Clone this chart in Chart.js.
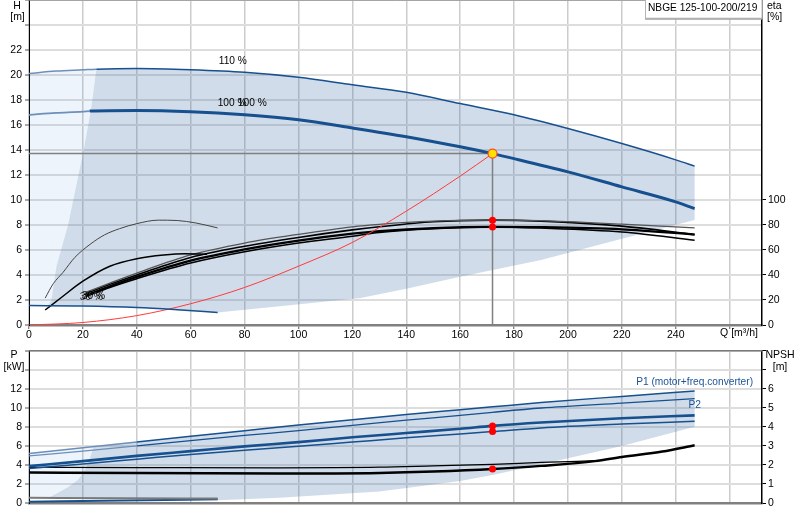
<!DOCTYPE html>
<html>
<head>
<meta charset="utf-8">
<script src="https://cdn.jsdelivr.net/npm/chart.js@4.4.1/dist/chart.umd.min.js"></script>
<style>
  body { margin: 0; background: #fff; width: 800px; height: 520px; overflow: hidden; position: relative; }
  #top { position: absolute; left: 0; top: 0; }
  #bottom { position: absolute; left: 0; top: 340px; }
</style>
</head>
<body>
<canvas id="top" width="800" height="345"></canvas>
<canvas id="bottom" width="800" height="180"></canvas>
<script>
// ---- Q-H panel ----
const qH110 = [0, 10, 20, 25, 40, 60, 80, 100, 120, 140, 160, 180, 200, 220, 240, 247];
const h110  = [20.1, 20.3, 20.4, 20.45, 20.5, 20.4, 20.2, 19.8, 19.2, 18.6, 17.7, 16.8, 15.7, 14.5, 13.2, 12.7];
const qH100 = [0, 10, 20, 22.5, 40, 60, 80, 100, 120, 140, 160, 172, 180, 200, 220, 240, 247];
const h100  = [16.8, 16.95, 17.05, 17.1, 17.15, 17.05, 16.8, 16.4, 15.75, 15.05, 14.24, 13.7, 13.3, 12.24, 11.04, 9.84, 9.3];
const qHMin = [0, 20, 40, 55, 70];
const hMin  = [1.55, 1.52, 1.4, 1.22, 1.0];
const qSys  = [0, 20, 40, 60, 80, 100, 120, 140, 160, 172];
const hSys  = [0, 0.2, 0.75, 1.7, 3.0, 4.7, 6.6, 9.1, 11.9, 13.7];
const qDuty = [172];
const hDuty = [13.7];

// shaded operating range (outline), and the light zone at low flow
const qShadeH = [7, 8.3, 10.2, 14.5, 20.3, 23, 25, 40, 60, 80, 100, 120, 140, 160, 180, 200, 220, 240, 247,
                 247, 220, 190, 160, 140, 123, 93, 70, 55, 40, 20];
const hShadeH = [1.55, 1.95, 4.7, 8, 14, 17.2, 20.45, 20.5, 20.4, 20.2, 19.8, 19.2, 18.6, 17.7, 16.8, 15.7, 14.5, 13.2, 12.7,
                 8.4, 6.9, 5.2, 3.85, 2.9, 2.15, 1.5, 1.0, 1.22, 1.4, 1.52];
const qLightH = [0, 0, 10, 20, 25, 23, 20.3, 14.5, 10.2, 8.3, 7];
const hLightH = [1.55, 20.1, 20.3, 20.4, 20.45, 17.2, 14, 8, 4.7, 1.95, 1.55];

// efficiency curves [%]
const qEtaLow = [6, 9, 12.6, 17, 23, 28, 33.6, 40, 48, 55, 62, 70];
const etaLow  = [21.5, 33, 42, 54, 65, 72, 77, 81, 83.8, 83.5, 81.5, 77.6];
const qEtaMid = [6, 12, 20, 30, 40, 50, 58, 66];
const etaMid  = [12, 22, 35, 47, 53, 56, 57, 56.5];
const qEta    = [21, 30, 40, 60, 80, 100, 120, 130, 150, 172, 190, 220, 247];
const eta1    = [26, 33.5, 41.5, 56, 65.5, 72.5, 78.5, 80.5, 83, 83.8, 83.4, 80.6, 77.6];
const eta2    = [25, 32.5, 40, 54, 63, 70, 76, 78.5, 82.5, 83.8, 83, 79, 72.3];
const eta3    = [23.5, 31, 38.5, 51.5, 60.5, 67.5, 73, 75, 77.5, 78.4, 78.2, 76.5, 72.3];
const eta4    = [22.5, 30, 37, 49.5, 58.5, 65.5, 71, 74, 77, 78.4, 77.5, 74.4, 67.8];
const etaDuty = [83.8, 78.4];

// ---- P / NPSH panel ----
const qP    = [0, 20, 40, 60, 80, 100, 120, 140, 160, 172, 190, 220, 247];
const p1_110 = [5.2, 5.8, 6.4, 7.0, 7.6, 8.2, 8.75, 9.3, 9.8, 10.1, 10.55, 11.2, 11.76];
const p2_110 = [4.95, 5.45, 6.0, 6.55, 7.1, 7.6, 8.15, 8.7, 9.2, 9.53, 9.98, 10.5, 10.96];
const p1_100 = [3.87, 4.4, 4.95, 5.45, 5.95, 6.4, 6.9, 7.35, 7.8, 8.1, 8.45, 8.9, 9.21];
const p2_100 = [3.63, 4.1, 4.6, 5.1, 5.55, 5.95, 6.4, 6.85, 7.25, 7.5, 7.89, 8.3, 8.59];
const qPMin  = [0, 35, 70];
const pMinA  = [0.55, 0.5, 0.47];
const pMinB  = [0.14, 0.25, 0.4];
const pDuty  = [8.1, 7.5];

const qShadeP = [7, 8, 11, 14.7, 18, 20, 22, 24, 40, 60, 80, 100, 120, 140, 160, 172, 190, 220, 247,
                 247, 220, 189, 172, 160, 130, 93, 70, 40];
const pShadeP = [0.5, 0.66, 1.1, 1.7, 2.4, 3.1, 4.2, 5.92, 6.4, 7.0, 7.6, 8.2, 8.75, 9.3, 9.8, 10.1, 10.55, 11.2, 11.76,
                 8.0, 6.0, 4.0, 2.93, 2.3, 1.2, 0.56, 0.3, 0.45];
const qLightP = [0, 0, 20, 24, 22, 20, 18, 14.7, 11, 8, 7];
const pLightP = [0.5, 5.2, 5.8, 5.92, 4.2, 3.1, 2.4, 1.7, 1.1, 0.66, 0.5];

const qNpshLo = [0, 40, 93, 130, 150, 172, 190, 210, 220, 235, 247];
const npshLo  = [1.6, 1.57, 1.55, 1.58, 1.65, 1.78, 1.95, 2.2, 2.42, 2.7, 3.03];
const qNpshHi = [0, 40, 93, 130, 150, 172, 190, 210];
const npshHi  = [1.87, 1.86, 1.85, 1.88, 1.95, 2.03, 2.13, 2.22];
const npshDuty = [1.78];

// ---- helpers ----
const FONT = '"Liberation Sans", Arial, sans-serif';
Chart.defaults.font = { family: FONT, size: 10.5 };
Chart.defaults.color = '#000';

const BLUE = '#17508f';
const BLUE_LIGHT = '#6d8fba';
const SHADE = 'rgba(60,110,165,0.24)';
const SHADE_LIGHT = 'rgba(80,150,230,0.10)';

const pts = (xs, ys) => xs.map((x, i) => ({ x: x, y: ys[i] }));

function curve(xs, ys, color, width, axis, more) {
  return Object.assign({
    data: pts(xs, ys), yAxisID: axis, borderColor: color, borderWidth: width,
    pointRadius: 0, fill: false, cubicInterpolationMode: 'monotone', order: 3
  }, more || {});
}
function area(xs, ys, color, axis, order) {
  return {
    data: pts(xs, ys), yAxisID: axis, backgroundColor: color, borderColor: 'rgba(0,0,0,0)',
    borderWidth: 0, pointRadius: 0, fill: 'shape', tension: 0, order: order
  };
}
function dots(xs, ys, axis, more) {
  return Object.assign({
    data: pts(xs, ys), yAxisID: axis, showLine: false, pointRadius: 3.5,
    pointBackgroundColor: '#ff0000', pointBorderColor: '#ff0000', pointBorderWidth: 0, order: 0
  }, more || {});
}
function txt(ctx, s, x, y, align, color) {
  ctx.fillStyle = color || '#000';
  ctx.textAlign = align || 'left';
  ctx.textBaseline = 'middle';
  ctx.fillText(s, x, y);
}
function fixWidth(w) {
  return s => { s.width = w; s.paddingTop = 0; s.paddingBottom = 0; };
}
function fixHeight(h) {
  return s => { s.height = h; s.paddingLeft = 0; s.paddingRight = 0; };
}
const xScale = (showLabels, h) => ({
  type: 'linear', min: 0, max: 272,
  ticks: {
    display: showLabels, stepSize: 20, includeBounds: false, autoSkip: false, maxRotation: 0, padding: 0,
    callback: v => (v <= 240 ? v : '')
  },
  grid: { color: '#cccccc', lineWidth: 1.5, drawTicks: showLabels, tickLength: 4, tickColor: '#555', tickWidth: 1 },
  border: { color: '#808080', width: 2.5 },
  afterFit: fixHeight(h)
});
const leftScale = (max, labelMax) => ({
  position: 'left', min: 0, max: max,
  ticks: { stepSize: 2, autoSkip: false, padding: 3, callback: v => (v <= labelMax ? v : '') },
  grid: { color: '#dddddd', lineWidth: 2, tickLength: 4, tickColor: '#555', tickWidth: 1 },
  border: { color: '#000', width: 1 },
  afterFit: fixWidth(29)
});
const rightScale = (max, step, labelMax, tickMax) => ({
  position: 'right', min: 0, max: max,
  ticks: { stepSize: step, autoSkip: false, padding: 2, callback: v => (v <= labelMax ? v : '') },
  grid: {
    drawOnChartArea: false, tickLength: 4, tickWidth: 1,
    tickColor: c => (c.tick && c.tick.value <= tickMax ? '#000' : 'rgba(0,0,0,0)')
  },
  border: { color: '#000', width: 1.5 },
  afterFit: fixWidth(38)
});

// ---- top chart: Q-H and eta ----
const topText = {
  id: 'topText',
  afterDraw(chart) {
    const { ctx, chartArea: a, scales: s } = chart;
    const X = v => s.x.getPixelForValue(v), Y = v => s.y.getPixelForValue(v);
    const oy = a.top; // page y = canvas y - oy
    ctx.save();
    ctx.strokeStyle = '#8c8c8c'; ctx.lineWidth = 1;
    ctx.beginPath(); ctx.moveTo(a.left, a.top + 0.5); ctx.lineTo(a.right, a.top + 0.5); ctx.stroke();
    ctx.font = '10.5px ' + FONT;
    txt(ctx, 'H', 17, oy + 6, 'center');
    txt(ctx, '[m]', 17.5, oy + 17, 'center');
    txt(ctx, 'eta', 767, oy + 6);
    txt(ctx, '[%]', 767, oy + 17);
    txt(ctx, 'Q [m\u00b3/h]', 739, a.bottom + 8.5, 'center');
    // model box
    ctx.fillStyle = '#fff'; ctx.fillRect(645, oy, 117, 19);
    ctx.fillStyle = '#9a9a9a'; ctx.fillRect(645, oy + 18.5, 117, 1.5);
    ctx.strokeStyle = '#b4b4b4'; ctx.lineWidth = 1; ctx.strokeRect(645.5, oy - 0.5, 116.5, 19);
    ctx.font = '10.2px ' + FONT;
    txt(ctx, 'NBGE 125-100-200/219', 648, oy + 8.5);
    // curve labels
    txt(ctx, '110 %', X(70.4), Y(21.1));
    txt(ctx, '100 %', X(70), Y(17.7));
    txt(ctx, '100 %', X(77.5), Y(17.75));
    txt(ctx, '30 %', X(18.8), Y(2.26), 'left', '#333');
    txt(ctx, '30 %', X(19.6), Y(2.3), 'left', '#000');
    ctx.restore();
  }
};

const topCanvas = document.getElementById('top');
const topChart = new Chart(topCanvas, {
  type: 'line',
  data: {
    datasets: [
      area(qLightH, hLightH, SHADE_LIGHT, 'y', 11),
      area(qShadeH, hShadeH, SHADE, 'y', 10),
      curve(qH110, h110, BLUE, 1.5, 'y', {
        segment: { borderColor: c => (c.p0.parsed.x < 25 ? BLUE_LIGHT : BLUE) }
      }),
      curve(qH100, h100, BLUE, 3, 'y', {
        segment: {
          borderColor: c => (c.p0.parsed.x < 22.5 ? BLUE_LIGHT : BLUE),
          borderWidth: c => (c.p0.parsed.x < 22.5 ? 1.8 : 3)
        }
      }),
      curve(qHMin, hMin, BLUE, 1.5, 'y'),
      curve(qSys, hSys, '#ff3b3b', 1, 'y'),
      curve([0, 172, 172], [13.7, 13.7, 0], '#808080', 1.5, 'y', { cubicInterpolationMode: 'default', tension: 0, order: 4 }),
      curve(qEtaLow, etaLow, '#444', 1, 'eta'),
      curve(qEtaMid, etaMid, '#000', 1.5, 'eta'),
      curve(qEta, eta1, '#555', 1.3, 'eta'),
      curve(qEta, eta2, '#000', 1.6, 'eta'),
      curve(qEta, eta3, '#000', 2.2, 'eta'),
      curve(qEta, eta4, '#000', 1.5, 'eta'),
      dots([172, 172], etaDuty, 'eta'),
      dots(qDuty, hDuty, 'y', { pointRadius: 4.5, pointBackgroundColor: '#ffe100', pointBorderColor: '#ff4a2a', pointBorderWidth: 1.2 })
    ]
  },
  options: {
    responsive: false, maintainAspectRatio: false, animation: false,
    layout: { padding: 0 },
    plugins: { legend: { display: false }, tooltip: { enabled: false } },
    scales: {
      x: xScale(true, 20),
      y: leftScale(26, 22),
      eta: rightScale(260, 20, 100, 100)
    }
  },
  plugins: [topText]
});

// the library leaves a small gap above the plot; make it a whole pixel count,
// then shift the canvas up so the plot spans page y 0..325
const gap = topChart.chartArea.top;
if (gap > 0.2) {
  const whole = Math.ceil(gap);
  topChart.options.layout.padding = { top: whole - gap, left: 0, right: 0, bottom: 0 };
  topChart.resize(800, 345 + whole);
  topCanvas.style.top = (-Math.round(topChart.chartArea.top)) + 'px';
}

// ---- bottom chart: P and NPSH ----
const bottomText = {
  id: 'bottomText',
  afterDraw(chart) {
    const { ctx, chartArea: a, scales: s } = chart;
    const X = v => s.x.getPixelForValue(v), Y = v => s.y.getPixelForValue(v);
    ctx.save();
    ctx.strokeStyle = '#7a7a7a'; ctx.lineWidth = 1.5;
    ctx.beginPath(); ctx.moveTo(a.left, a.top); ctx.lineTo(a.right, a.top); ctx.stroke();
    ctx.font = '10.5px ' + FONT;
    txt(ctx, 'P', 14, 15, 'center');
    txt(ctx, '[kW]', 14, 27, 'center');
    txt(ctx, 'NPSH', 780, 15.3, 'center');
    txt(ctx, '[m]', 780, 27, 'center');
    ctx.font = '10.2px ' + FONT;
    txt(ctx, 'P1 (motor+freq.converter)', X(225.3), Y(12.67), 'left', '#1d5496');
    txt(ctx, 'P2', X(244.7), Y(10.26), 'left', '#1d5496');
    ctx.restore();
  }
};

new Chart(document.getElementById('bottom'), {
  type: 'line',
  data: {
    datasets: [
      area(qLightP, pLightP, SHADE_LIGHT, 'y', 11),
      area(qShadeP, pShadeP, SHADE, 'y', 10),
      curve(qP, p1_110, BLUE, 1.5, 'y', {
        segment: { borderColor: c => (c.p0.parsed.x < 24 ? BLUE_LIGHT : BLUE) }
      }),
      curve(qP, p2_110, BLUE, 1.3, 'y', {
        segment: { borderColor: c => (c.p0.parsed.x < 24 ? BLUE_LIGHT : BLUE) }
      }),
      curve(qP, p1_100, BLUE, 2.6, 'y'),
      curve(qP, p2_100, BLUE, 1.5, 'y'),
      curve(qPMin, pMinA, '#7a7a7a', 2, 'y'),
      curve(qPMin, pMinB, BLUE, 2, 'y'),
      curve(qNpshHi, npshHi, '#000', 1.3, 'npsh'),
      curve(qNpshLo, npshLo, '#000', 2.5, 'npsh'),
      dots([172, 172], pDuty, 'y'),
      dots([172], npshDuty, 'npsh')
    ]
  },
  options: {
    responsive: false, maintainAspectRatio: false, animation: false,
    layout: { padding: { top: 10.7, left: 0, right: 0, bottom: 0 } },
    plugins: { legend: { display: false }, tooltip: { enabled: false } },
    scales: {
      x: xScale(false, 17),
      y: leftScale(16, 12),
      npsh: rightScale(8, 1, 6, 8)
    }
  },
  plugins: [bottomText]
});
</script>
</body>
</html>
